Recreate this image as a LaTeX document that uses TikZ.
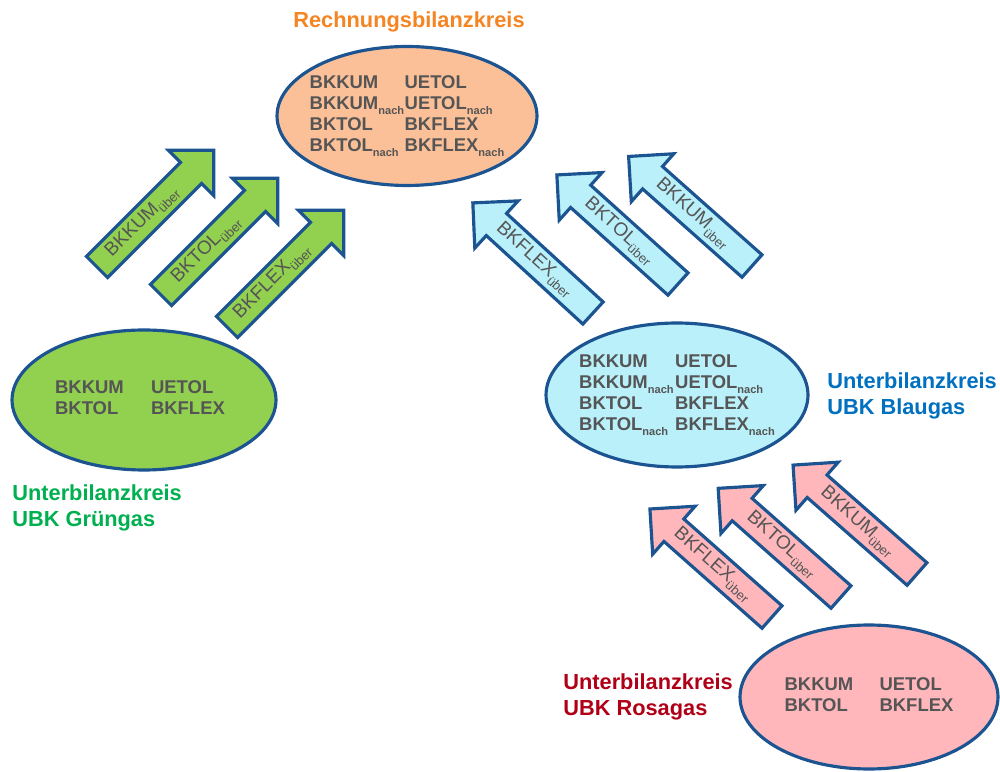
\documentclass[tikz,border=0pt]{standalone}
\usepackage{fontspec}
\setmainfont{Liberation Sans}
\usetikzlibrary{shapes.geometric}
\definecolor{edge}{RGB}{28,84,145}
\definecolor{gfill}{RGB}{146,208,80}
\definecolor{ofill}{RGB}{251,192,152}
\definecolor{bfill}{RGB}{185,240,250}
\definecolor{pfill}{RGB}{255,183,188}
\definecolor{txtgray}{RGB}{85,85,85}
\definecolor{titleorange}{RGB}{245,133,35}
\definecolor{lgreen}{RGB}{0,176,80}
\definecolor{lblue}{RGB}{0,112,192}
\definecolor{lred}{RGB}{176,0,24}
\newcommand\lowsub[1]{\raisebox{-0.5ex}{\fontsize{7.4}{8}\selectfont #1}}
\newcommand\lowsubb[1]{\raisebox{-0.5ex}{\fontsize{6.3}{7}\selectfont #1}}
% block arrow: #1 name, #2 tail x, #3 tail y, #4 angle, #5 length, #6 fill, #7 text pos, #8 text angle, #9 text
\newcommand\blockarrow[9]{%
  \begin{scope}[shift={(#2,#3)},rotate=#4]
    \draw[arrowline,fill=#6] (0,-15) -- ({#5-32},-15) -- ({#5-32},-32) -- (#5,0)
      -- ({#5-32},32) -- ({#5-32},15) -- (0,15) -- cycle;
    \node[arrtext,rotate=#8] (#1) at (#7,0) {#9};
  \end{scope}}
\tikzset{
  bubble/.style={ellipse,draw=edge,line width=1.8pt,inner sep=0pt},
  vals/.style={text=txtgray,font=\fontsize{10.5}{11.9}\selectfont\bfseries,inner sep=0pt},
  arrowline/.style={draw=edge,line width=1.8pt,line join=miter},
  arrtext/.style={text=txtgray,font=\fontsize{10.8}{12}\selectfont,inner sep=0pt},
  lbl/.style={font=\fontsize{12.4}{14.7}\selectfont\bfseries,align=left,inner sep=0pt,anchor=west}
}
\begin{document}
\begin{tikzpicture}[x=0.02cm,y=0.02cm]
\useasboundingbox (0,0) rectangle (1000,771);
% title
\node[font=\fontsize{12.4}{14.7}\selectfont\bfseries,text=titleorange,inner sep=0pt] (title) at (409,749) {Rechnungsbilanzkreis};
% ellipses
\node[bubble,fill=ofill,minimum width=5.2cm,minimum height=2.78cm] (rbk) at (407,655) {};
\node[vals] (rbkt) at (rbk.center) {\begin{tabular}{@{}p{1.9cm}@{}l@{}}
BKKUM & UETOL\\
BKKUM\lowsubb{nach} & UETOL\lowsubb{nach}\\
BKTOL & BKFLEX\\
BKTOL\lowsubb{nach} & BKFLEX\lowsubb{nach}
\end{tabular}};
\node[bubble,fill=gfill,minimum width=5.28cm,minimum height=2.8cm] (gr) at (144,371) {};
\node[vals] (grt) at ([xshift=-0.08cm]gr.center) {\begin{tabular}{@{}p{1.92cm}@{}l@{}}
BKKUM & UETOL\\
BKTOL & BKFLEX
\end{tabular}};
\node[bubble,fill=bfill,minimum width=5.24cm,minimum height=2.88cm] (bl) at (677,376) {};
\node[vals] (blt) at (bl.center) {\begin{tabular}{@{}p{1.92cm}@{}l@{}}
BKKUM & UETOL\\
BKKUM\lowsubb{nach} & UETOL\lowsubb{nach}\\
BKTOL & BKFLEX\\
BKTOL\lowsubb{nach} & BKFLEX\lowsubb{nach}
\end{tabular}};
\node[bubble,fill=pfill,minimum width=5.16cm,minimum height=2.88cm] (ro) at (869,74) {};
\node[vals] (rot) at (ro.center) {\begin{tabular}{@{}p{1.9cm}@{}l@{}}
BKKUM & UETOL\\
BKTOL & BKFLEX
\end{tabular}};
% labels
\node[lbl,text=lgreen] (grl) at (12,263) {Unterbilanzkreis\\UBK Grüngas};
\node[lbl,text=lblue] (bll) at (827,375) {Unterbilanzkreis\\UBK Blaugas};
\node[lbl,text=lred] (rol) at (563,74) {Unterbilanzkreis\\UBK Rosagas};
% green arrows
\blockarrow{g1}{97}{504}{45}{165}{gfill}{64}{45}{BKKUM\lowsub{über}}
\blockarrow{g2}{161}{476}{45}{165}{gfill}{64}{45}{BKTOL\lowsub{über}}
\blockarrow{g3}{227}{444}{45}{165}{gfill}{64}{45}{BKFLEX\lowsub{über}}
% blue arrows
\blockarrow{b1}{593}{458}{137.5}{163}{bfill}{79}{-42.5}{BKFLEX\lowsub{über}}
\blockarrow{b2}{678}{487}{138}{163}{bfill}{79}{-42}{BKTOL\lowsub{über}}
\blockarrow{b3}{752}{505}{138.4}{165}{bfill}{79}{-41.6}{BKKUM\lowsub{über}}
% pink arrows
\blockarrow{p1}{772}{154}{138.5}{163}{pfill}{79}{-41.5}{BKFLEX\lowsub{über}}
\blockarrow{p2}{841}{174}{138.5}{164}{pfill}{79}{-41.5}{BKTOL\lowsub{über}}
\blockarrow{p3}{917}{197}{138.7}{165}{pfill}{79}{-41.3}{BKKUM\lowsub{über}}
\end{tikzpicture}
\end{document}
